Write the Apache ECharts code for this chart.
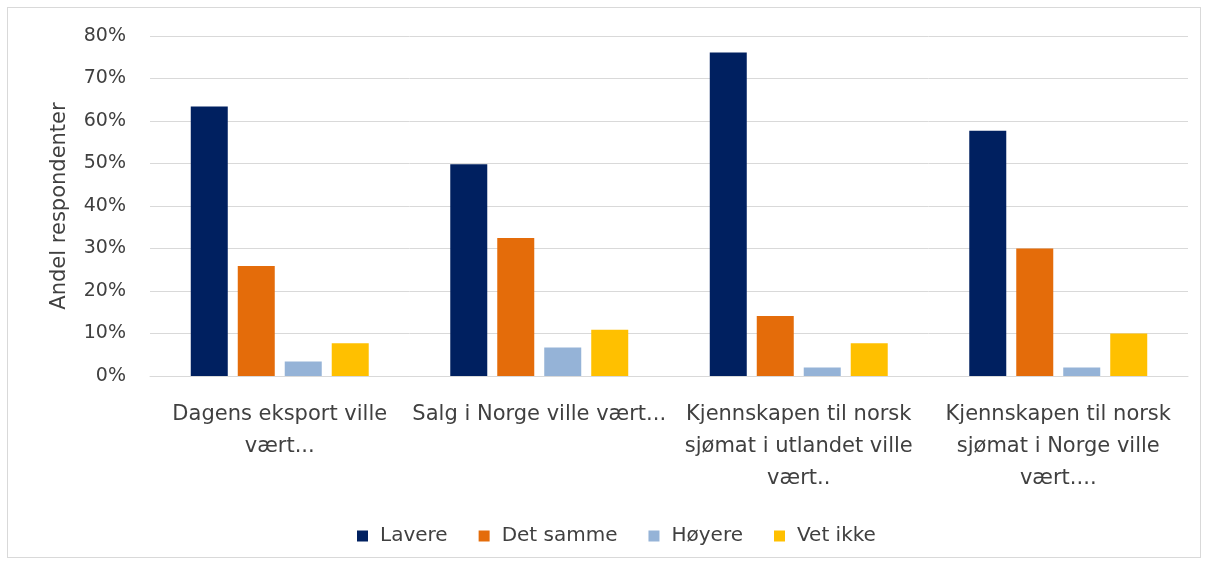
<!DOCTYPE html>
<html>
<head>
<meta charset="utf-8">
<script src="https://cdn.jsdelivr.net/npm/echarts@6/dist/echarts.min.js"></script>
<style>
html, body { margin: 0; padding: 0; background: #fff; }
#frame { position: absolute; left: 7px; top: 7px; width: 1194px; height: 551px; border: 1px solid #d9d9d9; box-sizing: border-box; }
#chart { width: 1206px; height: 565px; }
</style>
</head>
<body>
<div id="frame"></div>
<div id="chart"></div>
<script>
// categories (line breaks as in the original)
const categories = [
  'Dagens eksport ville\nvært...',
  'Salg i Norge ville vært...',
  'Kjennskapen til norsk\nsjømat i utlandet ville\nvært..',
  'Kjennskapen til norsk\nsjømat i Norge ville\nvært....'
]
const seriesNames = ['Lavere', 'Det samme', 'Høyere', 'Vet ikke']
const lavere = [63.4, 49.8, 76.1, 57.7]
const detSamme = [25.9, 32.5, 14.1, 30.0]
const hoyere = [3.4, 6.7, 2.0, 2.0]
const vetIkke = [7.7, 10.9, 7.7, 10.0]
const colors = ['#002060', '#E46C0A', '#95B3D7', '#FFC000']

const font = 'DejaVu Sans, sans-serif'
const values = [lavere, detSamme, hoyere, vetIkke]

let chart = echarts.init(document.getElementById('chart'))
const option = {
  animation: false,
  grid: { left: 150, right: 18, top: 36, bottom: 189 },
  legend: {
    data: seriesNames,
    top: 521,
    left: 352,
    itemWidth: 11,
    itemHeight: 11,
    itemGap: 31,
    icon: 'rect',
    textStyle: { fontFamily: font, fontSize: 20, color: '#404040', padding: [0, 0, 0, 7] }
  },
  xAxis: {
    type: 'category',
    data: categories,
    axisLine: { lineStyle: { color: '#d9d9d9' } },
    axisTick: { show: false },
    axisLabel: {
      interval: 0,
      margin: 23,
      fontFamily: font,
      fontSize: 21,
      lineHeight: 32,
      color: '#404040'
    }
  },
  yAxis: {
    type: 'value',
    min: 0,
    max: 80,
    interval: 10,
    name: 'Andel respondenter',
    nameLocation: 'middle',
    nameGap: 80,
    nameTextStyle: { fontFamily: font, fontSize: 21, color: '#404040' },
    axisLabel: {
      formatter: '{value}%',
      margin: 24,
      fontFamily: font,
      fontSize: 19,
      color: '#404040'
    },
    splitLine: { lineStyle: { color: '#d9d9d9' } }
  },
  series: seriesNames.map((name, i) => ({
    name: name,
    type: 'bar',
    data: values[i],
    barWidth: 37,
    barGap: '27%',
    itemStyle: { color: colors[i] }
  }))
}
chart.setOption(option)
</script>
</body>
</html>
